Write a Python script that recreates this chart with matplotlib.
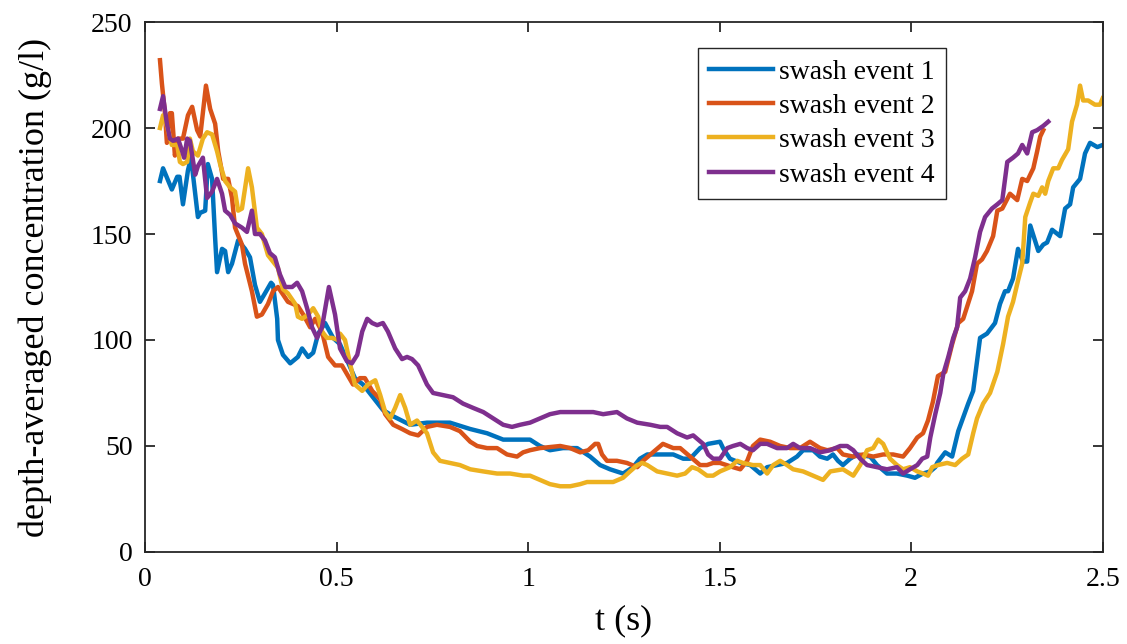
import matplotlib
matplotlib.use("Agg")
from matplotlib import pyplot as plt

plt.rcParams['font.family'] = ['Liberation Serif', 'DejaVu Serif']
plt.rcParams['mathtext.fontset'] = 'stix'

# depth-averaged concentration (g/l) against time (s) for four swash events
t1 = [0.039, 0.047, 0.070, 0.084, 0.090, 0.099, 0.112, 0.120, 0.138, 0.144,
      0.157, 0.164, 0.175, 0.183, 0.188, 0.201, 0.209, 0.217, 0.227, 0.243,
      0.261, 0.274, 0.287, 0.300, 0.313, 0.329, 0.334, 0.345, 0.347, 0.360,
      0.379, 0.399, 0.410, 0.426, 0.439, 0.452, 0.470, 0.491, 0.509, 0.548,
      0.569, 0.595, 0.621, 0.648, 0.692, 0.736, 0.796, 0.849, 0.893, 0.935,
      0.979, 1.005, 1.031, 1.057, 1.091, 1.128, 1.162, 1.188, 1.214, 1.248,
      1.274, 1.292, 1.311, 1.345, 1.379, 1.405, 1.423, 1.449, 1.470, 1.501,
      1.509, 1.527, 1.554, 1.580, 1.606, 1.624, 1.650, 1.676, 1.702, 1.718,
      1.744, 1.762, 1.781, 1.796, 1.809, 1.822, 1.841, 1.859, 1.893, 1.911,
      1.937, 1.963, 1.990, 2.010, 2.031, 2.050, 2.063, 2.068, 2.089, 2.107,
      2.123, 2.149, 2.162, 2.180, 2.198, 2.219, 2.232, 2.245, 2.253, 2.266,
      2.279, 2.292, 2.303, 2.311, 2.332, 2.345, 2.355, 2.368, 2.389, 2.402,
      2.415, 2.423, 2.441, 2.454, 2.467, 2.486, 2.500]
c1 = [175, 181, 171, 177, 177, 164, 180, 186, 158, 160,
      161, 183, 176, 148, 132, 143, 142, 132, 136, 147,
      143, 139, 126, 118, 122, 127, 126, 110, 100, 93,
      89, 92, 96, 92, 94, 103, 108, 101, 98, 82,
      79, 73, 67, 64, 60, 61, 61, 58, 56, 53,
      53, 53, 50, 48, 49, 49, 45, 41, 39, 37,
      40, 44, 46, 46, 46, 44, 44, 49, 51, 52,
      49, 44, 42, 41, 37, 40, 41, 42, 45, 48,
      48, 45, 44, 46, 43, 41, 44, 46, 45, 41,
      37, 37, 36, 35, 37, 38, 40, 42, 47, 45,
      57, 70, 76, 101, 103, 108, 117, 123, 123, 129,
      143, 137, 137, 154, 142, 145, 146, 152, 149, 162,
      164, 172, 176, 188, 193, 191, 192]

t2 = [0.039, 0.044, 0.052, 0.057, 0.065, 0.070, 0.078, 0.086, 0.099, 0.112,
      0.123, 0.136, 0.144, 0.159, 0.170, 0.183, 0.191, 0.204, 0.217, 0.227,
      0.235, 0.253, 0.261, 0.279, 0.292, 0.305, 0.321, 0.334, 0.347, 0.373,
      0.399, 0.413, 0.431, 0.444, 0.462, 0.478, 0.496, 0.514, 0.527, 0.543,
      0.561, 0.574, 0.593, 0.614, 0.627, 0.648, 0.671, 0.692, 0.713, 0.736,
      0.762, 0.796, 0.822, 0.849, 0.867, 0.893, 0.919, 0.945, 0.971, 0.987,
      1.005, 1.031, 1.084, 1.110, 1.136, 1.157, 1.175, 1.183, 1.193, 1.206,
      1.232, 1.258, 1.285, 1.300, 1.326, 1.352, 1.379, 1.397, 1.423, 1.449,
      1.467, 1.483, 1.501, 1.535, 1.554, 1.572, 1.587, 1.606, 1.632, 1.658,
      1.684, 1.710, 1.736, 1.762, 1.781, 1.807, 1.822, 1.849, 1.875, 1.901,
      1.927, 1.953, 1.979, 1.997, 2.016, 2.031, 2.044, 2.057, 2.070, 2.089,
      2.107, 2.123, 2.136, 2.159, 2.172, 2.185, 2.198, 2.214, 2.225, 2.238,
      2.258, 2.277, 2.290, 2.303, 2.319, 2.329, 2.337, 2.345]
c2 = [232, 221, 207, 193, 207, 207, 187, 195, 195, 206,
      210, 199, 196, 220, 209, 202, 189, 176, 176, 167,
      153, 145, 136, 123, 111, 112, 117, 123, 125, 118,
      116, 112, 106, 110, 104, 92, 88, 88, 84, 79,
      82, 82, 76, 72, 65, 60, 58, 56, 55, 59,
      60, 59, 57, 52, 50, 49, 49, 46, 45, 47,
      48, 49, 50, 49, 47, 48, 51, 51, 46, 43,
      43, 42, 40, 43, 47, 51, 49, 49, 45, 41,
      41, 42, 42, 40, 39, 43, 50, 53, 52, 50,
      49, 49, 52, 49, 48, 49, 46, 45, 46, 45,
      46, 46, 45, 49, 54, 56, 62, 71, 83, 85,
      98, 108, 110, 123, 136, 138, 142, 149, 161, 162,
      169, 166, 176, 175, 181, 189, 196, 199]

t3 = [0.039, 0.047, 0.057, 0.070, 0.084, 0.091, 0.099, 0.110, 0.117, 0.125,
      0.138, 0.151, 0.162, 0.175, 0.188, 0.196, 0.209, 0.222, 0.235, 0.243,
      0.253, 0.269, 0.279, 0.292, 0.305, 0.321, 0.334, 0.347, 0.360, 0.373,
      0.392, 0.399, 0.410, 0.426, 0.439, 0.452, 0.462, 0.475, 0.488, 0.504,
      0.509, 0.522, 0.535, 0.548, 0.567, 0.582, 0.601, 0.614, 0.627, 0.640,
      0.653, 0.666, 0.679, 0.692, 0.710, 0.723, 0.736, 0.752, 0.770, 0.796,
      0.822, 0.849, 0.883, 0.919, 0.953, 0.987, 1.005, 1.031, 1.057, 1.084,
      1.110, 1.136, 1.154, 1.188, 1.222, 1.248, 1.266, 1.285, 1.298, 1.311,
      1.337, 1.363, 1.389, 1.410, 1.428, 1.444, 1.467, 1.483, 1.501, 1.527,
      1.546, 1.561, 1.587, 1.606, 1.624, 1.640, 1.658, 1.676, 1.692, 1.718,
      1.744, 1.770, 1.789, 1.822, 1.849, 1.867, 1.885, 1.901, 1.914, 1.927,
      1.945, 1.963, 1.979, 1.997, 2.016, 2.031, 2.044, 2.055, 2.070, 2.094,
      2.115, 2.133, 2.149, 2.162, 2.172, 2.188, 2.206, 2.225, 2.240, 2.253,
      2.266, 2.279, 2.290, 2.298, 2.311, 2.319, 2.332, 2.342, 2.350, 2.358,
      2.371, 2.384, 2.394, 2.410, 2.420, 2.433, 2.441, 2.449, 2.462, 2.480,
      2.493, 2.500]
c3 = [200, 206, 201, 192, 192, 184, 183, 184, 195, 189,
      187, 195, 198, 197, 189, 183, 175, 172, 170, 161,
      162, 181, 172, 153, 150, 140, 137, 134, 124, 122,
      117, 111, 110, 112, 115, 111, 104, 101, 101, 100,
      103, 100, 89, 79, 76, 79, 81, 74, 66, 63,
      68, 74, 68, 60, 62, 59, 56, 47, 43, 42,
      41, 39, 38, 37, 37, 36, 36, 34, 32, 31,
      31, 32, 33, 33, 33, 35, 38, 41, 42, 41,
      38, 37, 36, 37, 40, 39, 36, 36, 38, 40,
      43, 42, 41, 41, 37, 41, 43, 41, 39, 38,
      36, 34, 38, 39, 36, 41, 48, 49, 53, 51,
      44, 41, 39, 40, 38, 37, 36, 40, 41, 42,
      41, 44, 46, 56, 63, 70, 75, 85, 98, 111,
      118, 128, 136, 158, 165, 169, 168, 172, 169, 175,
      181, 181, 185, 190, 203, 211, 220, 213, 213, 211,
      211, 214]

t4 = [0.039, 0.047, 0.057, 0.065, 0.073, 0.086, 0.097, 0.102, 0.110, 0.117,
      0.131, 0.138, 0.151, 0.162, 0.175, 0.188, 0.201, 0.209, 0.222, 0.235,
      0.253, 0.266, 0.279, 0.287, 0.300, 0.313, 0.326, 0.339, 0.352, 0.366,
      0.384, 0.397, 0.410, 0.423, 0.436, 0.449, 0.462, 0.480, 0.496, 0.509,
      0.527, 0.540, 0.554, 0.567, 0.580, 0.593, 0.606, 0.621, 0.634, 0.653,
      0.671, 0.684, 0.697, 0.713, 0.736, 0.752, 0.778, 0.804, 0.830, 0.856,
      0.883, 0.909, 0.935, 0.958, 0.979, 1.005, 1.031, 1.057, 1.084, 1.117,
      1.154, 1.170, 1.196, 1.232, 1.258, 1.285, 1.319, 1.345, 1.363, 1.389,
      1.415, 1.431, 1.457, 1.470, 1.483, 1.501, 1.520, 1.535, 1.554, 1.572,
      1.587, 1.606, 1.624, 1.650, 1.676, 1.692, 1.710, 1.736, 1.762, 1.789,
      1.815, 1.833, 1.849, 1.867, 1.885, 1.911, 1.937, 1.963, 1.979, 1.997,
      2.016, 2.029, 2.042, 2.050, 2.063, 2.076, 2.084, 2.097, 2.110, 2.120,
      2.128, 2.141, 2.154, 2.167, 2.180, 2.193, 2.211, 2.225, 2.238, 2.251,
      2.266, 2.279, 2.290, 2.303, 2.316, 2.329, 2.345, 2.358]
c4 = [209, 215, 202, 195, 194, 195, 189, 186, 195, 194,
      178, 182, 186, 167, 170, 176, 169, 161, 159, 155,
      153, 151, 161, 150, 150, 147, 141, 139, 131, 125,
      125, 127, 123, 115, 106, 101, 106, 125, 112, 96,
      90, 89, 93, 104, 110, 108, 107, 108, 104, 96,
      91, 92, 91, 88, 79, 75, 74, 73, 70, 68,
      66, 63, 60, 59, 60, 61, 63, 65, 66, 66,
      66, 66, 65, 66, 63, 61, 60, 59, 59, 56,
      54, 55, 51, 46, 44, 44, 49, 50, 51, 49,
      48, 51, 51, 49, 49, 51, 49, 49, 47, 48,
      50, 50, 48, 44, 41, 40, 39, 40, 37, 39,
      41, 44, 45, 54, 65, 75, 84, 92, 101, 106,
      120, 123, 129, 139, 151, 158, 162, 164, 166, 184,
      186, 188, 192, 188, 198, 199, 201, 203]

series = [(t1, c1, 'swash event 1', '#0072BD'),
          (t2, c2, 'swash event 2', '#D95319'),
          (t3, c3, 'swash event 3', '#EDB120'),
          (t4, c4, 'swash event 4', '#7E2F8E')]

fig = plt.figure(figsize=(11.27, 6.44), dpi=100)
ax = fig.add_axes([0.1287, 0.1429, 0.8497, 0.8229])

for t, c, name, col in series:
    ax.plot(t, c, color=col, lw=3.2, label=name)

ax.set_xlim(0, 2.5)
ax.set_ylim(0, 250)
ax.set_xticks([0, 0.5, 1, 1.5, 2, 2.5])
ax.set_xticklabels(['0', '0.5', '1', '1.5', '2', '2.5'])
ax.set_yticks([0, 50, 100, 150, 200, 250])

for s in ax.spines.values():
    s.set_linewidth(1.3)
    s.set_color('#262626')
ax.tick_params(direction='in', length=7, width=1.3, color='#262626',
               labelsize=20, top=True, right=True, pad=9)
ax.tick_params(axis='x', pad=11)

ax.set_xlabel('t (s)', fontsize=26, labelpad=9)
ax.set_ylabel('depth-averaged concentration (g/l)', fontsize=26, labelpad=28)

leg = ax.legend(loc='upper right', bbox_to_anchor=(0.836, 0.951), fontsize=20,
                fancybox=False, framealpha=1, edgecolor='#262626',
                handlelength=2.3, handletextpad=0.2, labelspacing=0.32,
                borderpad=0.4, borderaxespad=0)
leg.get_frame().set_linewidth(1.0)

plt.savefig('out.png', dpi=100)
